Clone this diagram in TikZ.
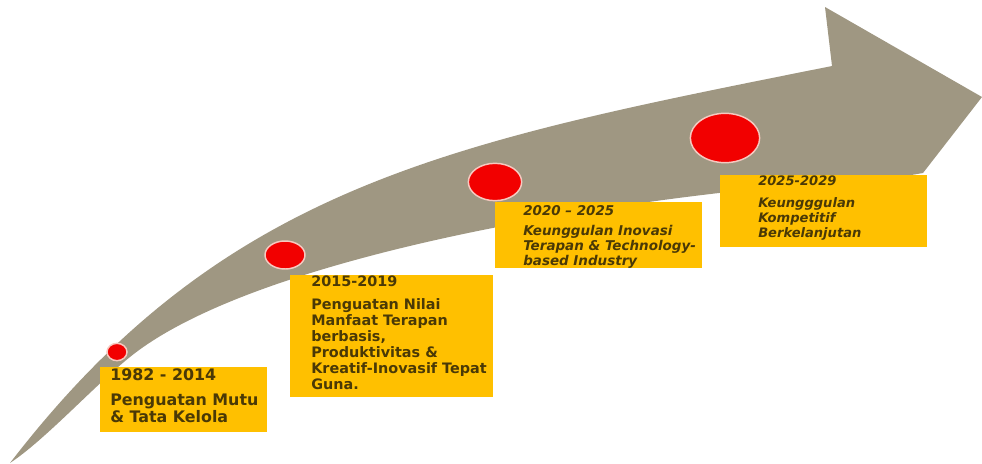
\documentclass[tikz,border=0pt]{standalone}
\usepackage{fontspec}
\setmainfont{DejaVu Sans}[BoldFont={DejaVu Sans Bold},ItalicFont={DejaVu Sans Oblique},BoldItalicFont={DejaVu Sans Bold Oblique}]
\usepackage{tikz}
\usetikzlibrary{shapes.geometric}
\definecolor{khaki}{HTML}{9F9782}
\definecolor{amber}{HTML}{FFC000}
\definecolor{ruby}{HTML}{F20000}
\definecolor{blush}{HTML}{F6C9C0}
\definecolor{umber}{HTML}{4A3906}
\tikzset{
  box/.style={rectangle,fill=amber,inner sep=0pt,anchor=north west},
  stage/.style={ellipse,fill=ruby,draw=blush,line width=1.1pt,inner sep=0pt},
  txt/.style={anchor=north west,inner sep=0pt,align=left,text=umber},
}

\begin{document}
\begin{tikzpicture}[x=0.75pt,y=-0.75pt]
  \useasboundingbox (0,0) rectangle (982,464);
  % arrow
  \fill[khaki] (10,463) .. controls (225,183.5) and (452,142) .. (832,66)
    -- (825,7) -- (982,97) -- (923,173) -- (900,177)
    .. controls (600,195) and (250,260) .. (130,357)
    .. controls (95,385) and (45,440) .. (10,463) -- cycle;

  \node[stage,minimum width=15pt,minimum height=13pt] (c1) at (117,352) {};
  \node[stage,minimum width=30pt,minimum height=21pt] (c2) at (285,255) {};
  \node[stage,minimum width=40pt,minimum height=28pt] (c3) at (495,182) {};
  \node[stage,minimum width=52pt,minimum height=37pt] (c4) at (725,138) {};

  \node[box,minimum width=125.25pt,minimum height=48.75pt] (b1) at (100,367) {};
  \node[box,minimum width=152.25pt,minimum height=91.5pt] (b2) at (290,275) {};
  \node[box,minimum width=155.25pt,minimum height=49.5pt] (b3) at (495,202) {};
  \node[box,minimum width=155.25pt,minimum height=54pt] (b4) at (720,175) {};

  \node[txt,font=\fontsize{11.9}{11.5}\selectfont\bfseries] (t1) at (110,368.5)
    {1982 - 2014\\[7pt]Penguatan Mutu\\\& Tata Kelola};
  \node[txt,font=\fontsize{10.8}{12}\selectfont\bfseries] (t2) at (311,276)
    {2015-2019\\[5pt]Penguatan Nilai\\Manfaat Terapan\\berbasis,\\Produktivitas \&\\Kreatif-Inovasif Tepat\\Guna.};
  \node[txt,font=\fontsize{10.1}{11.25}\selectfont\bfseries\itshape] (t3) at (523,205)
    {2020 -- 2025\\[4pt]Keunggulan Inovasi\\Terapan \& Technology-\\based Industry};
  \node[txt,font=\fontsize{9.8}{11.25}\selectfont\bfseries\itshape] (t4) at (758,175.5)
    {2025-2029\\[5pt]Keungggulan\\Kompetitif\\Berkelanjutan};
\end{tikzpicture}
\end{document}
